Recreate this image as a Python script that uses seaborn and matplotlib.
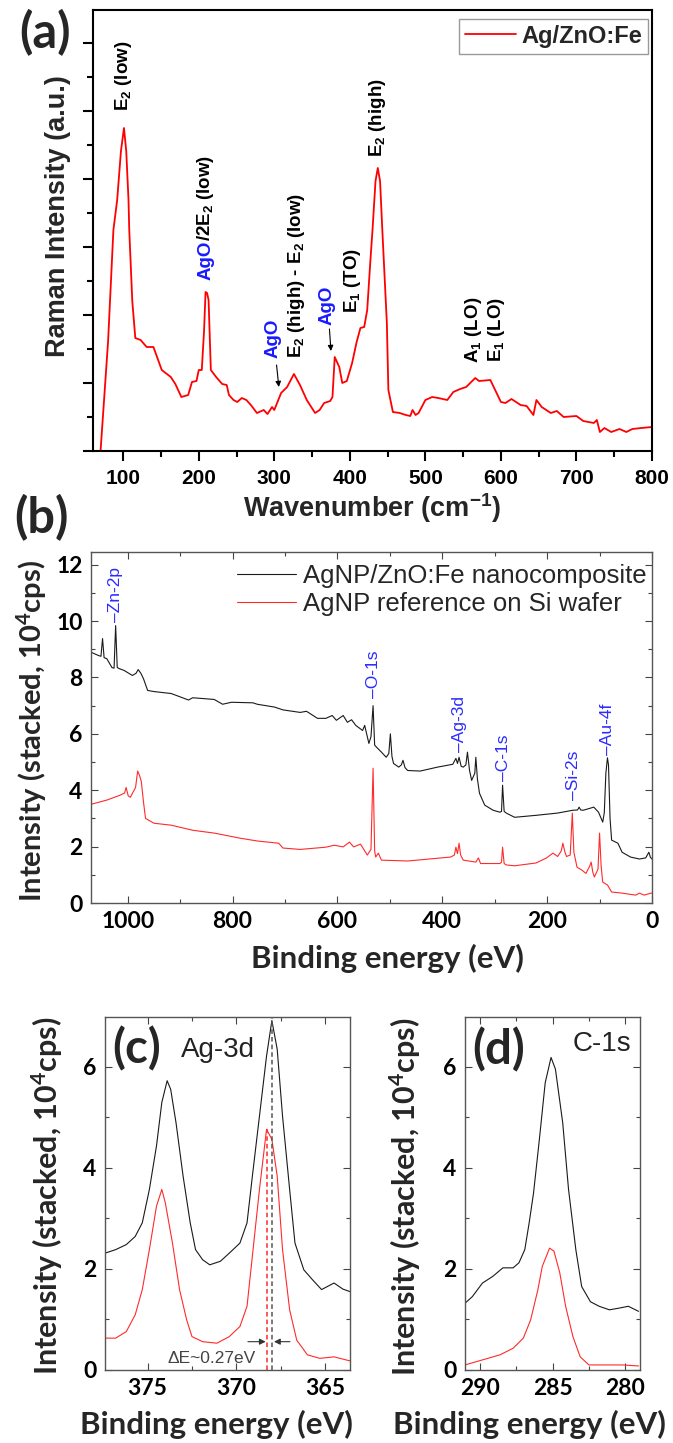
import numpy as np
import pandas as pd
import seaborn as sns
import matplotlib.pyplot as plt
from matplotlib.ticker import MultipleLocator

# ---------------- (a) Raman spectrum ----------------
raman_wn = [67, 70, 80, 87, 92, 97, 101, 104, 107, 108, 112, 116, 123, 131, 140,
            151, 163, 169, 177, 186, 191, 197, 200, 204, 207, 209, 211, 213, 216,
            223, 231, 237, 240, 246, 251, 257, 263, 269, 277, 286, 291, 297, 300,
            309, 317, 326, 334, 343, 354, 360, 366, 374, 377, 380, 386, 390, 396,
            403, 409, 414, 419, 423, 427, 430, 434, 437, 440, 443, 449, 451, 457,
            466, 474, 480, 483, 487, 491, 500, 509, 517, 529, 537, 546, 554, 566,
            571, 586, 600, 606, 614, 626, 634, 643, 647, 654, 666, 674, 683, 700,
            709, 723, 727, 731, 737, 746, 757, 766, 774, 786, 800]
raman_int = [-30, 0, 110, 221, 251, 300, 323, 300, 251, 221, 150, 113, 111, 104, 104,
             81, 74, 67, 54, 56, 69, 70, 81, 81, 120, 159, 158, 151, 81,
             74, 67, 66, 56, 51, 49, 53, 51, 46, 38, 41, 37, 44, 41,
             58, 64, 77, 66, 51, 38, 41, 48, 50, 54, 94, 84, 68, 70,
             88, 109, 123, 124, 141, 188, 221, 270, 283, 270, 221, 128, 61, 39,
             38, 36, 35, 41, 36, 38, 51, 54, 53, 51, 59, 62, 64, 73,
             70, 71, 49, 48, 52, 46, 45, 36, 51, 44, 38, 40, 34, 35,
             30, 28, 31, 19, 23, 19, 22, 19, 22, 23, 24]

raman_labels = ["E$_2$ (low)", "AgO", "/2E$_2$ (low)", "AgO", "E$_2$ (high) - E$_2$ (low)",
                "AgO", "E$_1$ (TO)", "E$_2$ (high)", "A$_1$ (LO)", "E$_1$ (LO)"]
raman_label_wn = [100, 209, 209, 298, 329, 370, 403, 437, 563, 594]
raman_label_y = [340, 171, None, 93, 93, 126, 138, 294, 88, 89]
raman_label_color = ["black", "#1a1aff", "black", "#1a1aff", "black",
                     "#1a1aff", "black", "black", "black", "black"]

# arrows: (tail x, tail y, head x, head y)
raman_arrows = [(303, 86, 306, 64), (373, 122, 375, 100)]

# ---------------- (b) XPS survey ----------------
survey_e_comp = [1070, 1068, 1056, 1051, 1048, 1045, 1040, 1030, 1026, 1023, 1020, 1017,
                 1007, 991, 984, 980, 975, 970, 962, 950, 917, 884, 876, 835, 819, 802,
                 761, 753, 720, 704, 671, 659, 638, 622, 610, 602, 589, 581, 573, 565,
                 552, 548, 540, 536, 532, 529, 525, 516, 507, 502, 499, 496, 493, 483,
                 478, 475, 471, 466, 442, 409, 380, 374, 371, 368, 364, 360, 355, 352,
                 348, 344, 338, 336, 333, 329, 319, 303, 290, 287, 285, 282, 278, 262,
                 221, 180, 151, 142, 139, 136, 131, 111, 102, 94, 91, 88, 85, 83, 80,
                 77, 65, 57, 41, 24, 12, 6, 3, 0]
survey_i_comp = [8.85, 8.88, 8.78, 8.75, 9.38, 8.70, 8.67, 8.35, 8.33, 9.84, 8.36, 8.32,
                 8.25, 8.07, 8.15, 8.28, 8.15, 7.96, 7.54, 7.50, 7.43, 7.20, 7.28, 7.22, 7.05, 7.12,
                 7.10, 7.05, 6.95, 6.85, 6.76, 6.80, 6.55, 6.55, 6.65, 6.48, 6.65, 6.41, 6.50, 6.30,
                 6.12, 6.30, 5.66, 5.90, 7.00, 5.60, 5.52, 5.35, 5.17, 5.30, 6.00, 5.20, 4.95, 4.82,
                 4.90, 5.06, 4.80, 4.70, 4.68, 4.82, 4.92, 5.13, 4.95, 5.17, 4.85, 4.82, 4.90, 5.35,
                 4.70, 4.35, 4.60, 5.17, 4.40, 3.89, 3.47, 3.29, 3.22, 3.25, 4.18, 3.25, 3.19, 3.04,
                 3.11, 3.19, 3.29, 3.30, 3.40, 3.30, 3.29, 3.40, 3.22, 2.87, 3.20, 4.60, 5.15, 4.90, 3.00,
                 2.23, 2.12, 1.80, 1.63, 1.56, 1.60, 1.80, 1.62, 1.56]
survey_e_ref = [1070, 1040, 1015, 1006, 1003, 999, 995, 985, 981, 977, 974, 970, 966,
                950, 917, 876, 835, 786, 753, 712, 704, 671, 622, 606, 589, 577, 569,
                556, 543, 536, 532, 529, 527, 522, 516, 466, 425, 384, 377, 374, 371,
                368, 365, 360, 336, 331, 327, 290, 287, 285, 282, 278, 262, 221, 201,
                189, 180, 173, 170, 166, 163, 156, 152, 149, 143, 134, 126, 119, 116,
                113, 110, 103, 100, 97, 94, 85, 77, 57, 31, 24, 15, 2, 0]
survey_i_ref = [3.50, 3.65, 3.82, 3.90, 4.10, 3.80, 3.75, 4.10, 4.68, 4.50, 4.30, 3.60, 3.00,
                2.83, 2.76, 2.58, 2.48, 2.30, 2.20, 2.12, 1.95, 1.90, 1.98, 2.05, 1.99, 2.16, 1.99,
                2.09, 1.70, 1.90, 4.78, 1.85, 1.63, 1.77, 1.52, 1.49, 1.56, 1.63, 1.70, 1.98, 1.75,
                2.12, 1.70, 1.52, 1.45, 1.60, 1.40, 1.40, 1.45, 1.98, 1.40, 1.35, 1.32, 1.42, 1.60,
                1.77, 1.65, 1.85, 2.12, 1.80, 1.65, 1.70, 3.19, 1.80, 1.27, 1.17, 1.05, 1.30, 1.45,
                1.10, 0.92, 1.20, 2.48, 1.30, 0.74, 0.64, 0.39, 0.35, 0.28, 0.35, 0.28, 0.35, 0.35]

survey_series = ["AgNP/ZnO:Fe nanocomposite", "AgNP reference on Si wafer"]
survey_peaks = ["Zn-2p", "O-1s", "Ag-3d", "C-1s", "Si-2s", "Au-4f"]
survey_peak_e = [1023, 531, 367, 284, 149, 85]
survey_peak_y = [9.95, 7.26, 5.35, 4.32, 3.65, 5.24]

# ---------------- (c) Ag-3d ----------------
ag_e_comp = [377.4, 376.8, 376.2, 375.7, 375.3, 374.9, 374.5, 374.2, 373.9, 373.7, 373.4,
             373.0, 372.6, 372.3, 371.9, 371.5, 370.9, 370.4, 369.8, 369.4, 369.1, 368.7,
             368.3, 368.0, 367.7, 367.4, 367.0, 366.7, 366.2, 365.7, 365.2, 364.5, 364.0, 363.6]
ag_i_comp = [2.31, 2.38, 2.48, 2.64, 2.91, 3.57, 4.43, 5.29, 5.72, 5.55, 4.89,
             3.83, 2.91, 2.38, 2.18, 2.08, 2.15, 2.31, 2.51, 2.91, 3.83, 5.02,
             6.21, 6.91, 6.34, 5.02, 3.57, 2.51, 1.98, 1.78, 1.59, 1.72, 1.60, 1.55]
ag_e_ref = [377.4, 376.8, 376.2, 375.7, 375.3, 374.9, 374.5, 374.2, 374.0, 373.6, 373.2,
            372.8, 372.5, 371.9, 371.1, 370.4, 369.8, 369.4, 369.1, 368.7, 368.3, 368.0,
            367.7, 367.4, 367.0, 366.6, 366.0, 365.3, 364.5, 363.6]
ag_i_ref = [0.63, 0.63, 0.76, 1.09, 1.59, 2.38, 3.24, 3.57, 3.30, 2.51, 1.59,
            0.99, 0.66, 0.56, 0.53, 0.66, 0.86, 1.26, 2.25, 3.57, 4.76, 4.56,
            3.83, 2.38, 1.19, 0.59, 0.30, 0.23, 0.26, 0.18]
ag_peak_comp = 368.0
ag_peak_ref = 368.27
ag_peak_ref_height = 4.76

# ---------------- (d) C-1s ----------------
c_e_comp = [291.0, 290.5, 289.8, 289.1, 288.4, 287.7, 287.3, 286.9, 286.6, 286.3, 285.9,
            285.5, 285.1, 284.8, 284.3, 283.9, 283.4, 283.0, 282.4, 281.8, 281.1, 280.5,
            279.8, 279.1]
c_i_comp = [1.32, 1.45, 1.72, 1.85, 2.02, 2.02, 2.12, 2.38, 2.91, 3.50, 4.56,
            5.68, 6.18, 5.95, 4.89, 3.57, 2.38, 1.65, 1.35, 1.26, 1.19, 1.22,
            1.26, 1.16]
c_e_ref = [291.0, 289.8, 288.6, 287.7, 287.0, 286.5, 286.0, 285.7, 285.2, 284.9, 284.5,
           284.1, 283.6, 283.1, 282.5, 281.4, 280.2, 279.1]
c_i_ref = [0.10, 0.20, 0.30, 0.43, 0.63, 0.99, 1.59, 2.05, 2.41, 2.35, 1.92,
           1.26, 0.66, 0.26, 0.10, 0.10, 0.10, 0.08]

# ---------------- styling ----------------
sns.set_theme(style="ticks")
plt.rcParams['font.family'] = ['Lato', 'DejaVu Sans']
plt.rcParams['font.weight'] = 'bold'
plt.rcParams['axes.labelweight'] = 'bold'
plt.rcParams['mathtext.default'] = 'regular'
ARIAL = ['Liberation Sans', 'DejaVu Sans']
BLUE = '#2b2bff'
RED = '#ff2a2a'

W, H = 673, 1443
fig = plt.figure(figsize=(W / 100, H / 100), dpi=100)


def add_ax(l, t, r, b):
    return fig.add_axes([l / W, 1 - b / H, (r - l) / W, (b - t) / H])


# ---------------- panel (a) ----------------
ax_a = add_ax(93, 10, 652, 451)
sns.lineplot(x=raman_wn, y=raman_int, ax=ax_a, color='#ff0000', lw=1.3,
             sort=False, estimator=None)
ax_a.set_xlim(60, 800)
ax_a.set_ylim(0, 441)
ax_a.xaxis.set_major_locator(MultipleLocator(100))
ax_a.xaxis.set_minor_locator(MultipleLocator(50))
ax_a.yaxis.set_major_locator(MultipleLocator(68))
ax_a.yaxis.set_minor_locator(MultipleLocator(34))
ax_a.tick_params(which='both', direction='out', top=False, right=False, width=1.5,
                 colors='black', labelsize=15, labelfontfamily='Liberation Sans', pad=6)
ax_a.tick_params(which='major', length=7)
ax_a.tick_params(which='minor', length=4)
ax_a.tick_params(axis='y', labelleft=False)
for s in ax_a.spines.values():
    s.set_linewidth(1.5)
    s.set_color('black')

ax_a.set_xlabel('Wavenumber (cm$^{-1}$)', fontsize=19.5, family=ARIAL, weight='bold')
ax_a.xaxis.set_label_coords(0.5, -0.129)
ax_a.xaxis.label.set_va('center')
ax_a.set_ylabel('Raman Intensity (a.u.)', fontsize=19.5, family=ARIAL, weight='bold')
ax_a.yaxis.set_label_coords(-0.0626, 0.533)
ax_a.yaxis.label.set_va('center')

leg = ax_a.legend(handles=ax_a.get_lines()[:1], labels=['Ag/ZnO:Fe'], loc='upper right',
                  bbox_to_anchor=(0.993, 0.98), borderaxespad=0, borderpad=0.25,
                  handlelength=2.15, handletextpad=0.25, frameon=True, fancybox=False,
                  edgecolor='#999999', framealpha=1,
                  prop={'family': ARIAL, 'weight': 'bold', 'size': 17})
leg.get_frame().set_linewidth(1.0)

prev = None
for txt, x, y, c in zip(raman_labels, raman_label_wn, raman_label_y, raman_label_color):
    if y is None:
        # continue the previous label (coloured prefix) right after it
        fig.canvas.draw()
        bb = prev.get_window_extent()
        y = ax_a.transData.inverted().transform((0, bb.y1))[1]
    prev = ax_a.text(x + 6, y, txt, rotation=90, rotation_mode='anchor', ha='left',
                     va='baseline', color=c, fontsize=13.5, family=ARIAL, weight='bold')

for x0, y0, x1, y1 in raman_arrows:
    ax_a.annotate('', xy=(x1, y1), xytext=(x0, y0),
                  arrowprops=dict(arrowstyle='-|>', color='black', lw=0.8,
                                  mutation_scale=8, shrinkA=0, shrinkB=0))

fig.text(45 / W, 1 - 33 / H, '(a)', fontsize=35, weight='bold', family='Lato',
         ha='center', va='center')


def style_xps(ax, xmaj, xmin):
    ax.xaxis.set_major_locator(MultipleLocator(xmaj))
    ax.xaxis.set_minor_locator(MultipleLocator(xmin))
    ax.yaxis.set_major_locator(MultipleLocator(2))
    ax.yaxis.set_minor_locator(MultipleLocator(1))
    ax.tick_params(which='both', direction='in', top=True, right=True, width=0.8,
                   color='#444444', labelcolor='black', labelsize=16.5,
                   labelfontfamily='Lato')
    ax.tick_params(which='major', length=5)
    ax.tick_params(which='minor', length=3)
    ax.tick_params(axis='y', pad=6)
    ax.tick_params(axis='x', pad=6)
    for s in ax.spines.values():
        s.set_linewidth(1.0)
        s.set_color('#555555')


# ---------------- panel (b) ----------------
ax_b = add_ax(91, 552, 652, 903)
sns.lineplot(x=survey_e_comp, y=survey_i_comp, ax=ax_b, color='#1a1a1a', lw=0.8,
             sort=False, estimator=None)
sns.lineplot(x=survey_e_ref, y=survey_i_ref, ax=ax_b, color=RED, lw=0.8,
             sort=False, estimator=None)
ax_b.set_xlim(1070, 0)
ax_b.set_ylim(0, 12.45)
style_xps(ax_b, 200, 100)
ax_b.set_xlabel('Binding energy (eV)', fontsize=22.5, weight='bold')
ax_b.xaxis.set_label_coords(0.528, -0.157)
ax_b.xaxis.label.set_va('center')
ax_b.set_ylabel('Intensity (stacked, 10$^4$cps)', fontsize=21, weight='bold')
ax_b.yaxis.set_label_coords(-0.105, 0.49)
ax_b.yaxis.label.set_va('center')
ax_b.legend(handles=ax_b.get_lines()[:2], labels=survey_series, loc='upper right',
            bbox_to_anchor=(0.991, 0.966), frameon=False, borderaxespad=0, borderpad=0,
            labelspacing=0.15, handlelength=2.3, handletextpad=0.3,
            prop={'family': ARIAL, 'weight': 'normal', 'size': 18.5})
for name, e, y in zip(survey_peaks, survey_peak_e, survey_peak_y):
    ax_b.text(e, y, '\u2013' + name, rotation=90, rotation_mode='anchor', ha='left',
              va='center', color=BLUE, fontsize=12.5, family=ARIAL, weight='normal')

fig.text(41 / W, 1 - 518 / H, '(b)', fontsize=35, weight='bold', family='Lato',
         ha='center', va='center')

# ---------------- panel (c) ----------------
ax_c = add_ax(105, 1017, 350, 1370)
sns.lineplot(x=ag_e_comp, y=ag_i_comp, ax=ax_c, color='#1a1a1a', lw=0.8,
             sort=False, estimator=None)
sns.lineplot(x=ag_e_ref, y=ag_i_ref, ax=ax_c, color=RED, lw=0.8,
             sort=False, estimator=None)
ax_c.set_xlim(377.4, 363.6)
ax_c.set_ylim(0, 6.98)
style_xps(ax_c, 5, 2.5)
ax_c.vlines([ag_peak_ref], 0, ag_peak_ref_height, colors=RED, linestyles=(0, (3, 2)), lw=1.1)
ax_c.vlines([ag_peak_comp], 0, 6.98, colors='#555555', linestyles=(0, (3, 2)), lw=1.1)
ax_c.annotate('', xy=(ag_peak_ref + 0.08, 0.56), xytext=(ag_peak_ref + 1.08, 0.56),
              arrowprops=dict(arrowstyle='-|>', color='#333333', lw=0.8,
                              mutation_scale=9, shrinkA=0, shrinkB=0))
ax_c.annotate('', xy=(ag_peak_comp - 0.12, 0.56), xytext=(ag_peak_comp - 1.02, 0.56),
              arrowprops=dict(arrowstyle='-|>', color='#333333', lw=0.8,
                              mutation_scale=9, shrinkA=0, shrinkB=0))
ax_c.text(371.4, 0.23, '\u0394E~0.27eV', ha='center', va='center', fontsize=12.5,
          family=ARIAL, weight='normal', color='#444444')
ax_c.text(375.6, 6.36, '(c)', ha='center', va='center', fontsize=34, weight='bold')
ax_c.text(371.05, 6.18, 'Ag-3d', ha='center', va='baseline', fontsize=20,
          family=ARIAL, weight='normal', color='#222222')
ax_c.set_xlabel('Binding energy (eV)', fontsize=22.5, weight='bold')
ax_c.xaxis.set_label_coords(0.453, -0.153)
ax_c.xaxis.label.set_va('center')
ax_c.set_ylabel('Intensity (stacked, 10$^4$cps)', fontsize=22, weight='bold')
ax_c.yaxis.set_label_coords(-0.237, 0.493)
ax_c.yaxis.label.set_va('center')

# ---------------- panel (d) ----------------
ax_d = add_ax(465, 1017, 640, 1370)
sns.lineplot(x=c_e_comp, y=c_i_comp, ax=ax_d, color='#1a1a1a', lw=0.8,
             sort=False, estimator=None)
sns.lineplot(x=c_e_ref, y=c_i_ref, ax=ax_d, color=RED, lw=0.8,
             sort=False, estimator=None)
ax_d.set_xlim(291.0, 279.0)
ax_d.set_ylim(0, 6.98)
style_xps(ax_d, 5, 2.5)
ax_d.text(288.7, 6.34, '(d)', ha='center', va='center', fontsize=34, weight='bold')
ax_d.text(279.6, 6.31, 'C-1s', ha='right', va='baseline', fontsize=20,
          family=ARIAL, weight='normal', color='#222222')
ax_d.set_xlabel('Binding energy (eV)', fontsize=22.5, weight='bold')
ax_d.xaxis.set_label_coords(0.371, -0.153)
ax_d.xaxis.label.set_va('center')
ax_d.set_ylabel('Intensity (stacked, 10$^4$cps)', fontsize=22, weight='bold')
ax_d.yaxis.set_label_coords(-0.343, 0.49)
ax_d.yaxis.label.set_va('center')

# tick labels are bold in every panel
fig.canvas.draw()
for ax in (ax_a, ax_b, ax_c, ax_d):
    for lbl in ax.get_xticklabels() + ax.get_yticklabels():
        lbl.set_fontweight('bold')

fig.savefig('out.png', dpi=100)
